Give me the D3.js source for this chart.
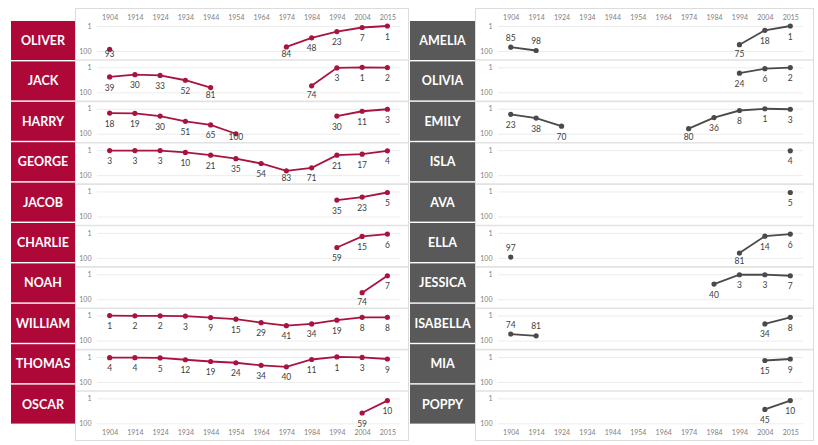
<!DOCTYPE html>
<html>
<head>
<meta charset="utf-8">
<script src="https://cdn.jsdelivr.net/npm/d3@7"></script>
<style>
  body { margin: 0; background: #fff; }
  text { font-family: Lato, "Open Sans", sans-serif; }
</style>
</head>
<body>
<div id="chart"></div>
<script>
// years on the x axis (categorical, 2015 sits one step after 2004)
const years = ['1904', '1914', '1924', '1934', '1944', '1954', '1964', '1974', '1984', '1994', '2004', '2015']
const rankTicks = [1, 100]

// boys: rank per year, null = not in top 100
const boys = ['OLIVER', 'JACK', 'HARRY', 'GEORGE', 'JACOB', 'CHARLIE', 'NOAH', 'WILLIAM', 'THOMAS', 'OSCAR']
const boysRanks = [
    [93, null, null, null, null, null, null, 84, 48, 23, 7, 1],
    [39, 30, 33, 52, 81, null, null, null, 74, 3, 1, 2],
    [18, 19, 30, 51, 65, 100, null, null, null, 30, 11, 3],
    [3, 3, 3, 10, 21, 35, 54, 83, 71, 21, 17, 4],
    [null, null, null, null, null, null, null, null, null, 35, 23, 5],
    [null, null, null, null, null, null, null, null, null, 59, 15, 6],
    [null, null, null, null, null, null, null, null, null, null, 74, 7],
    [1, 2, 2, 3, 9, 15, 29, 41, 34, 19, 8, 8],
    [4, 4, 5, 12, 19, 24, 34, 40, 11, 1, 3, 9],
    [null, null, null, null, null, null, null, null, null, null, 59, 10]
]

// girls
const girls = ['AMELIA', 'OLIVIA', 'EMILY', 'ISLA', 'AVA', 'ELLA', 'JESSICA', 'ISABELLA', 'MIA', 'POPPY']
const girlsRanks = [
    [85, 98, null, null, null, null, null, null, null, 75, 18, 1],
    [null, null, null, null, null, null, null, null, null, 24, 6, 2],
    [23, 38, 70, null, null, null, null, 80, 36, 8, 1, 3],
    [null, null, null, null, null, null, null, null, null, null, null, 4],
    [null, null, null, null, null, null, null, null, null, null, null, 5],
    [97, null, null, null, null, null, null, null, null, 81, 14, 6],
    [null, null, null, null, null, null, null, null, 40, 3, 3, 7],
    [74, 81, null, null, null, null, null, null, null, null, 34, 8],
    [null, null, null, null, null, null, null, null, null, null, 15, 9],
    [null, null, null, null, null, null, null, null, null, null, 45, 10]
]

// data labels that sit above their point instead of below
const labelsAbove = ['AMELIA 1904', 'AMELIA 1914', 'ELLA 1904', 'ISABELLA 1904', 'ISABELLA 1914']

const width = 818
const height = 445
const rowStep = 41.37
const boxStep = 40.4

var svg = d3.select('#chart')
    .append('svg')
    .attr('width', width)
    .attr('height', height)

drawPanel(svg, boys, boysRanks, {
    boxX: 11, boxW: 64, panelX: 75, panelW: 333,
    plotX0: 97, plotX1: 400, boxColor: '#ae0839', lineColor: '#a8143f'
})

drawPanel(svg, girls, girlsRanks, {
    boxX: 410, boxW: 65, panelX: 475, panelW: 338,
    plotX0: 498, plotX1: 803, boxColor: '#595959', lineColor: '#4a4a4a'
})

function drawPanel(svg, names, ranks, o) {
    let g = svg.append('g')

    // panel frame
    g.append('rect')
        .attr('x', o.panelX + 0.5)
        .attr('y', 8.5)
        .attr('width', o.panelW)
        .attr('height', 432)
        .attr('fill', 'none')
        .attr('stroke', '#dcdcdc')

    let x = d3.scalePoint()
        .domain(years)
        .range([o.plotX0, o.plotX1])
        .padding(0.5)

    // year labels top and bottom
    let topAxis = g.append('g')
        .attr('transform', 'translate(0,22)')
        .call(d3.axisTop(x).tickSize(0).tickPadding(2.5))
    let bottomAxis = g.append('g')
        .attr('transform', 'translate(0,428)')
        .call(d3.axisBottom(x).tickSize(0).tickPadding(2.5))
    ;[topAxis, bottomAxis].forEach(a => {
        a.select('.domain').remove()
        a.selectAll('text')
            .attr('fill', '#808080')
            .style('font-size', '7px')
    })

    // row separators
    for (let i = 0; i < names.length - 1; i++) {
        g.append('line')
            .attr('x1', o.panelX + 1)
            .attr('x2', o.panelX + o.panelW)
            .attr('y1', 60 + i * rowStep)
            .attr('y2', 60 + i * rowStep)
            .attr('stroke', '#e2e2e2')
            .attr('stroke-width', 1.6)
    }

    names.forEach(function(name, i) {
        // name box
        let by = 21 + i * boxStep
        g.append('rect')
            .attr('x', o.boxX)
            .attr('y', by)
            .attr('width', o.boxW)
            .attr('height', 39)
            .attr('fill', o.boxColor)
        g.append('text')
            .attr('x', o.boxX + o.boxW / 2)
            .attr('y', by + 19.5)
            .attr('dy', '0.36em')
            .attr('text-anchor', 'middle')
            .attr('fill', '#fff')
            .style('font-size', '12.5px')
            .style('font-weight', 'bold')
            .text(name)

        let y = d3.scaleLinear()
            .domain([1, 100])
            .range([26 + i * rowStep, 51 + i * rowStep])

        // gridlines at rank 1 and 100
        let yAxis = g.append('g')
            .attr('transform', `translate(${o.plotX0},0)`)
            .call(d3.axisLeft(y)
                .tickValues(rankTicks)
                .tickSize(-(o.plotX1 - o.plotX0))
                .tickPadding(5.5))
        yAxis.select('.domain').remove()
        yAxis.selectAll('line').attr('stroke', '#ededed')
        yAxis.selectAll('text')
            .attr('fill', '#808080')
            .style('font-size', '7px')

        let vals = ranks[i]
        let pts = vals.map((v, j) => ({year: years[j], rank: v})).filter(d => d.rank != null)

        let line = d3.line()
            .defined(d => d.rank != null)
            .x(d => x(d.year))
            .y(d => y(d.rank))

        g.append('path')
            .datum(vals.map((v, j) => ({year: years[j], rank: v})))
            .attr('d', line)
            .attr('fill', 'none')
            .attr('stroke', o.lineColor)
            .attr('stroke-width', 1.8)

        g.selectAll(null)
            .data(pts)
            .enter()
            .append('circle')
            .attr('cx', d => x(d.year))
            .attr('cy', d => y(d.rank))
            .attr('r', 2.6)
            .attr('fill', o.lineColor)

        // data labels below (clamped inside the row), a few above
        g.selectAll(null)
            .data(pts)
            .enter()
            .append('text')
            .attr('x', d => x(d.year))
            .attr('y', function(d) {
                let py = y(d.rank)
                if (labelsAbove.includes(name + ' ' + d.year)) return py - 9.5
                return Math.min(py + 10.5, y(100) + 3)
            })
            .attr('dy', '0.36em')
            .attr('text-anchor', 'middle')
            .attr('fill', '#404040')
            .style('font-size', '8.5px')
            .text(d => d.rank)
    })
}
</script>
</body>
</html>
